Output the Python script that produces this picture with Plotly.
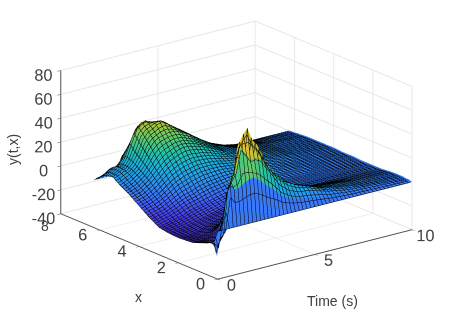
import math
import plotly.graph_objects as go

t_values = [0, .12, .25, .5, .75, 1, 1.25, 1.5, 1.75, 2, 2.25, 2.5, 2.75, 3, 3.5, 4, 4.5, 5, 6, 7, 8, 10]
x_values = [0, .157, .314, .471, .628, .94, 1.26, 1.57, 2, 2.5, 3, 3.5, 4, 4.5, 5, 5.34, 5.655, 5.812, 5.969, 6.126, 6.283]
y_rows = [
 [0,-9,-11,-13,-14,-16,-18,-18.5,-19,-18.5,-17,-12,-6,0,5,9,8,7,5,3,0],
 [0,-22,-14,-13,-14,-16,-18,-18.5,-19,-18.5,-17,-12,-6,0,5,9,9,8,6,3,0],
 [0,-12,-14,-14,-14,-16,-18,-18.5,-19,-18,-16,-11,-5,1,6,10,10,9,7,4,0],
 [0,-5,-10,-12,-13,-15,-17.5,-18.5,-19,-17.5,-15,-10,-4,2,8,12,13,12,10,6,0],
 [0,38,25,5,-9,-13,-16,-18,-18.5,-17,-14,-9,-2,5,11,13,13,12,10,5,0],
 [0,30,35,30,8,-6,-13,-16,-17.5,-16,-13,-7,0,8,14,18,20,18,14,6,0],
 [0,30,42,40,14,-2,-10,-14,-16,-15,-12,-5,3,12,20,25,32,26,21,16,0],
 [0,33,62,62,28,5,-7,-12,-14.5,-14,-10,-3,6,16,28,35,42,34,26,17,0],
 [0,35,56,70,38,10,-5,-11,-13,-13,-9,-1,9,20,33,40,45,40,30,17,0],
 [0,36,49,75,44,13,-3,-10,-12,-12,-8,0,11,23,36,42,46,42,30,16,0],
 [0,33,50,64,42,14,-2,-9,-11,-11,-7,1,13,25,37,45,44,40,28,15,0],
 [0,29,48,59,40,15,-1,-8,-10,-10,-6,3,14,27,38,46,43,37,26,14,0],
 [0,25,42,50,35,15,0,-7,-9,-9,-5,4,15,28,38,43,43,34,24,12,0],
 [0,22,36,40,32,14,1,-6,-8,-8,-4,5,16,28,37,40,38,32,22,10,0],
 [0,14,23,30,26,13,2,-4,-6,-6,-2,6,16,26,33,34,32,26,18,8,0],
 [0,10,16,22,21,12,3,-2,-4,-4,0,7,15,23,27,28,26,21,14,7,0],
 [0,8,13,17,17,11,4,-1,-2.5,-2,1,7,13,19,22,22,20,16,11,5,0],
 [0,7,12,14,14,10,4,0,-1,-1,2,7,12,15,17,17,15,12,8,4,0],
 [0,4,7,8,8,7,4,1,0,1,3,6,9,10,11,10,9,7,5,2,0],
 [0,2.5,4,5,5,5,3,1,.5,1,3,4,6,7,7,6.5,5.5,4.5,3,1.5,0],
 [0,2,3,3,3,3,2,1,.5,1,2,3,4,4,4,4,3,2.5,2,1,0],
 [0,1,1,1.5,1.5,1.5,1,.5,.5,.5,1,1,1.5,1.5,1.5,1.5,1,1,.5,.5,0],
]
z_ticks = [-40, -20, 0, 20, 40, 60, 80]

eps = 0.002
flat_bands = {0, 1, 2, 3, 16, 17, 18, 19}
grid_x, grid_z, grid_c = [], [], []
for j, xv in enumerate(x_values):
    col = [r[j] for r in y_rows]
    grid_x.append(xv); grid_z.append(col); grid_c.append(col)
    if j in flat_bands:
        grid_x.append(x_values[j + 1] - eps)
        grid_z.append([r[j + 1] for r in y_rows])
        grid_c.append(col)

parula = [[0,'#3e26a8'],[.1,'#4740ec'],[.2,'#3f6efb'],[.3,'#2a95ef'],[.4,'#1ab2da'],
          [.5,'#25c2a5'],[.6,'#63c96a'],[.7,'#b0c734'],[.8,'#e6ba2f'],[.9,'#fad72e'],[1,'#f9fb15']]

az, el = math.radians(38), math.radians(19)
d = 2.5
eye0 = (-math.sin(az)*math.cos(el)*d, -math.cos(az)*math.cos(el)*d, math.sin(el)*d)
c = (-0.040, 0.0314, -0.04)
eye = dict(x=eye0[0]+c[0], y=eye0[1]+c[1], z=eye0[2]+c[2])

ax_common = dict(showbackground=False, gridcolor='#e6e6e6', gridwidth=2, showline=True, linecolor='#505050',
                 linewidth=2, ticks='outside', ticklen=4, tickcolor='#404040', showspikes=False, zeroline=False,
                 tickangle=0, tickfont=dict(family='Liberation Sans', size=14, color='#404040'))
fig = go.Figure(go.Surface(
    x=t_values, y=grid_x, z=grid_z, surfacecolor=grid_c, colorscale=parula, cmin=-22, cmax=74, showscale=False,
    lighting=dict(ambient=1, diffuse=0, specular=0, fresnel=0, roughness=1),
    contours=dict(x=dict(show=True, start=0, end=10, size=0.2, color='black', width=2),
                  y=dict(show=True, start=0, end=6.283, size=0.1, color='black', width=1)),
    hoverinfo='skip'))
w, h = 457, 312
titles = [('Time (s)', 332, 301, 0), ('x', 138, 297, 0), ('y(t,x)', 13, 150, -90), ('8', 45, 226, 0)]
fig.update_layout(
    width=w, height=h, margin=dict(l=0, r=0, t=0, b=0), paper_bgcolor='white', showlegend=False,
    font=dict(family='Liberation Sans', color='#404040'),
    annotations=[dict(text=s, x=px/w, y=1-py/h, xref='paper', yref='paper', showarrow=False, xanchor='center', yanchor='middle',
                      textangle=a, font=dict(family='Liberation Sans', size=14, color='#404040'))
                 for s, px, py, a in titles],
    scene=dict(
        domain=dict(x=[0, 1], y=[0, 1]),
        aspectmode='manual', aspectratio=dict(x=1.582, y=1.634, z=0.971),
        camera=dict(eye=eye, center=dict(x=c[0], y=c[1], z=c[2]), up=dict(x=0, y=0, z=1), projection=dict(type='orthographic')),
        xaxis=dict(ax_common, range=[0, 10], tickvals=[0, 5, 10], title=dict(text='')),
        yaxis=dict(ax_common, range=[0, 8], tickvals=[0, 2, 4, 6, 8], ticktext=['0', '2', '4', '6', ''], title=dict(text='')),
        zaxis=dict(ax_common, range=[-40, 80], tickvals=z_ticks, ticktext=[str(v) for v in z_ticks], title=dict(text='')),
    ))
fig.write_html("out.html", config=dict(displayModeBar=False), post_script="document.body.style.margin='0';")
